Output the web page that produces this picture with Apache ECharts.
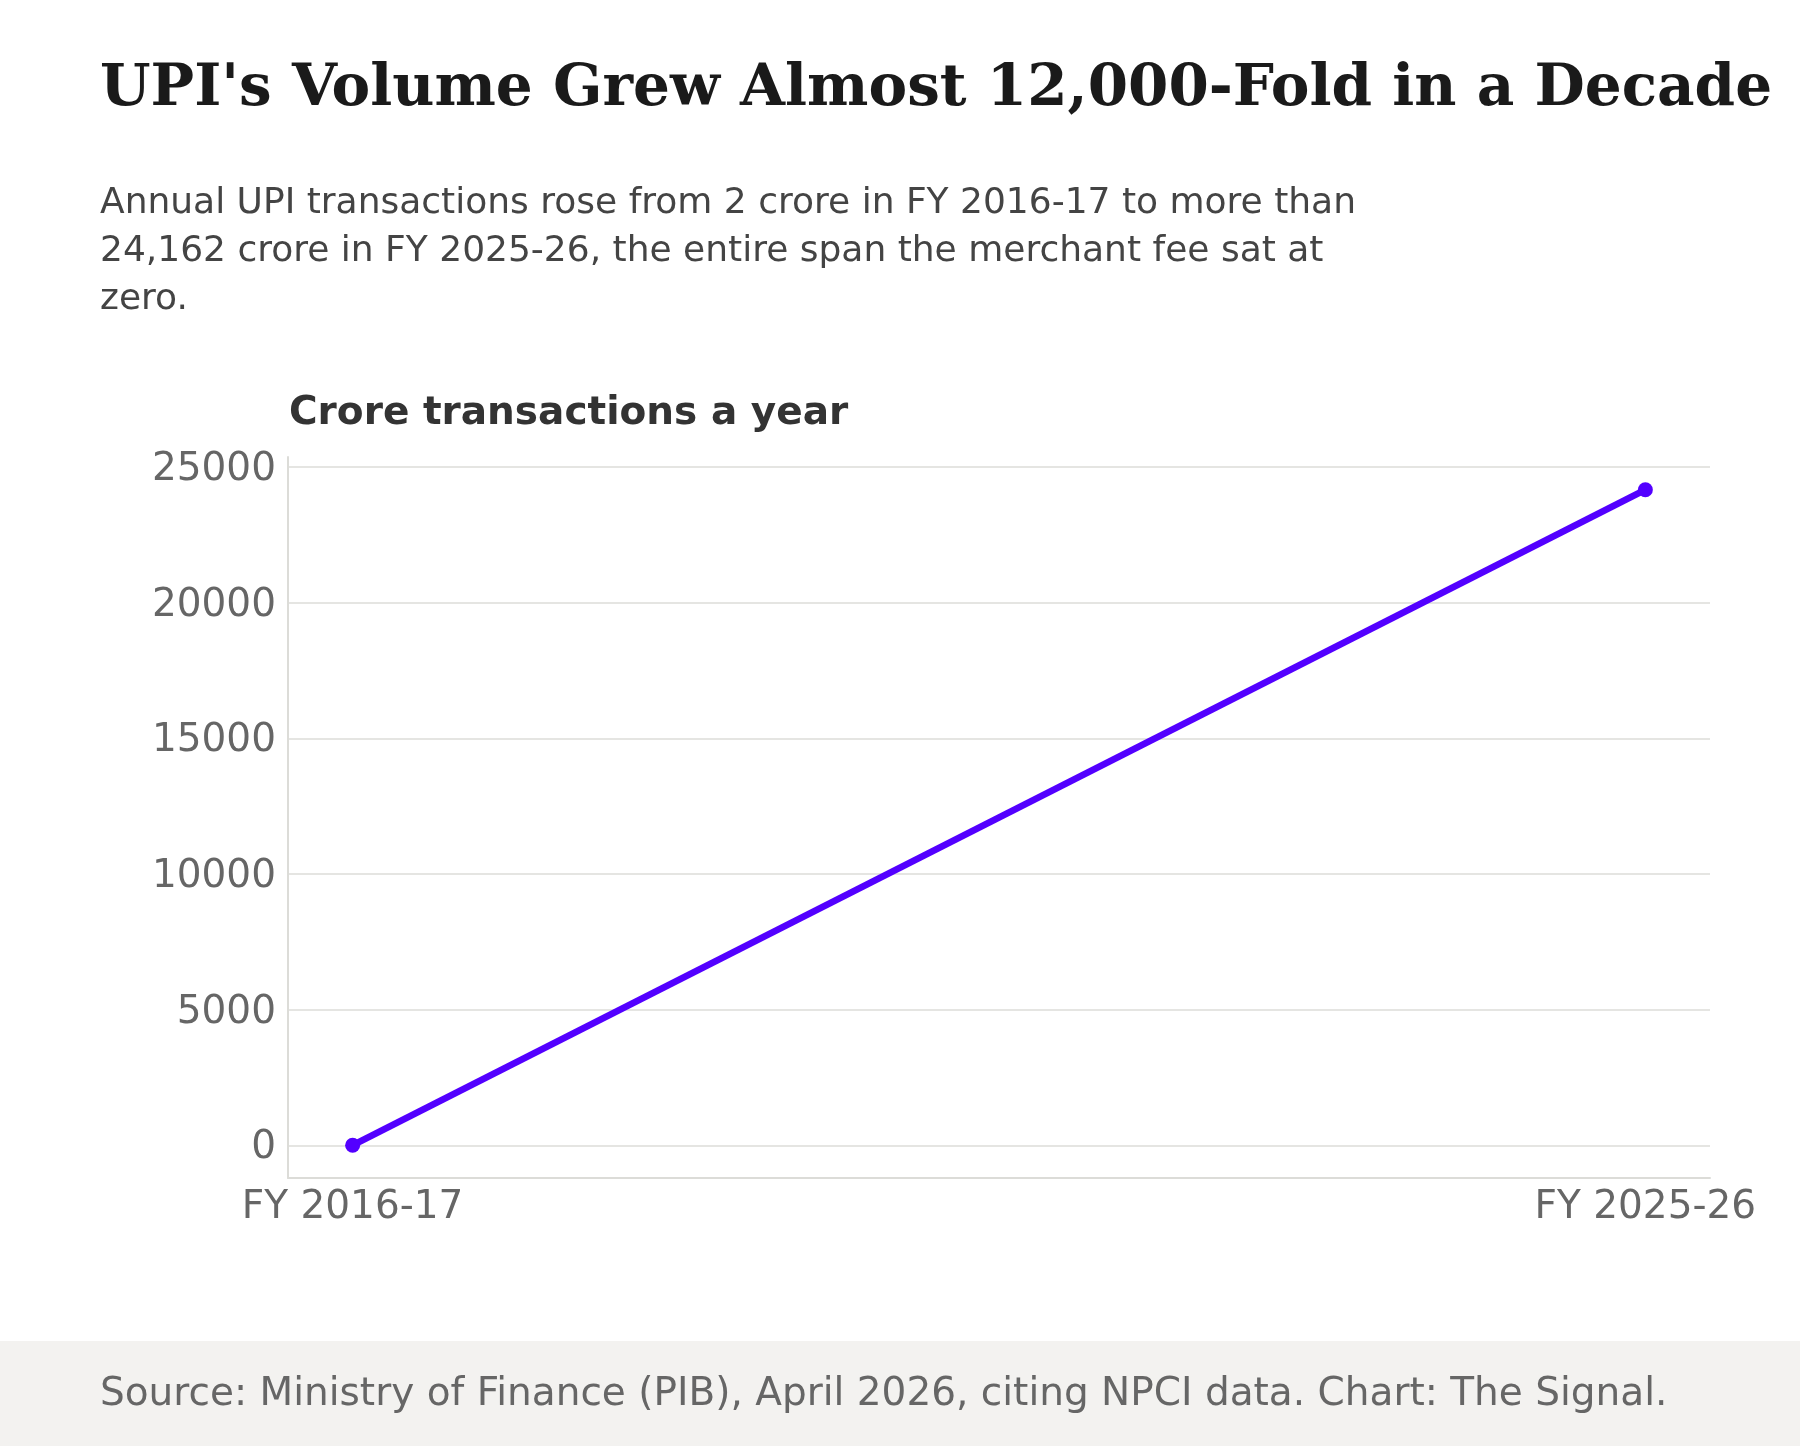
<!DOCTYPE html>
<html>
<head>
<meta charset="utf-8">
<script src="https://cdn.jsdelivr.net/npm/echarts@6/dist/echarts.min.js"></script>
<style>
  html, body { margin: 0; padding: 0; background: #fff; }
  #main { width: 1800px; height: 1446px; }
</style>
</head>
<body>
<div id="main"></div>
<script>
// data
const categories = ['FY 2016-17', 'FY 2025-26'];
const volumes = [2, 24162];           // crore transactions a year
const yTicks = [0, 5000, 10000, 15000, 20000, 25000];

const FONT = '"DejaVu Sans", sans-serif';
const LINE_COLOR = '#5300ff';

// x is positional index: 0 .. categories.length-1
const seriesData = volumes.map((v, i) => [i, v]);

// 5% margins on each side, like the source chart
const xSpan = categories.length - 1;
const yMinData = Math.min(...volumes), yMaxData = Math.max(...volumes);
const yPad = (yMaxData - yMinData) * 0.05;

const chart = echarts.init(document.getElementById('main'));

const option = {
  backgroundColor: '#fff',
  animation: false,
  title: [
    {
      text: "UPI's Volume Grew Almost 12,000-Fold in a Decade",
      left: 95, top: 50,
      textStyle: { fontFamily: '"DejaVu Serif", serif', fontWeight: 'bold', fontSize: 58, color: '#1a1a1a', lineHeight: 70 }
    },
    {
      text: 'Annual UPI transactions rose from 2 crore in FY 2016-17 to more than\n24,162 crore in FY 2025-26, the entire span the merchant fee sat at\nzero.',
      left: 95, top: 175,
      textStyle: { fontFamily: FONT, fontWeight: 'normal', fontSize: 36, color: '#444', lineHeight: 48 }
    },
    {
      text: 'Crore transactions a year',
      left: 284, top: 386,
      textStyle: { fontFamily: FONT, fontWeight: 'bold', fontSize: 39, color: '#333', lineHeight: 46 }
    },
    {
      text: 'Source: Ministry of Finance (PIB), April 2026, citing NPCI data. Chart: The Signal.',
      left: 95, top: 1367,
      textStyle: { fontFamily: FONT, fontWeight: 'normal', fontSize: 39, color: '#666', lineHeight: 46 }
    }
  ],
  graphic: [
    { type: 'rect', left: 0, top: 1341, shape: { width: 1800, height: 105 }, style: { fill: '#f3f2f0' }, z: -10 }
  ],
  grid: { left: 288, right: 90, top: 457, bottom: 268, containLabel: false },
  xAxis: {
    type: 'value',
    min: -0.05 * xSpan,
    max: xSpan * 1.05,
    interval: 0.05 * xSpan,
    axisLine: { show: true, onZero: false, lineStyle: { color: '#dcdcd8', width: 2 } },
    axisTick: { show: false },
    splitLine: { show: false },
    axisLabel: {
      color: '#666', fontFamily: FONT, fontSize: 39, margin: 10,
      formatter: v => {
        const i = Math.round(v);
        return Math.abs(v - i) < 1e-6 && categories[i] !== undefined ? categories[i] : '';
      }
    }
  },
  yAxis: {
    type: 'value',
    min: yMinData - yPad,
    max: yMaxData + yPad,
    axisLine: { show: true, onZero: false, lineStyle: { color: '#dcdcd8', width: 2 } },
    axisTick: { show: false, customValues: yTicks },
    splitLine: { show: true, lineStyle: { color: '#e5e5e2', width: 2 } },
    axisLabel: {
      customValues: yTicks, color: '#666', fontFamily: FONT, fontSize: 39, margin: 12,
      verticalAlign: 'top', lineHeight: 6,
      formatter: v => String(v)
    }
  },
  series: [{
    type: 'line',
    data: seriesData,
    symbol: 'circle',
    symbolSize: 15,
    lineStyle: { color: LINE_COLOR, width: 6.5 },
    itemStyle: { color: LINE_COLOR },
    label: { show: false }
  }]
};

chart.setOption(option);
</script>
</body>
</html>
